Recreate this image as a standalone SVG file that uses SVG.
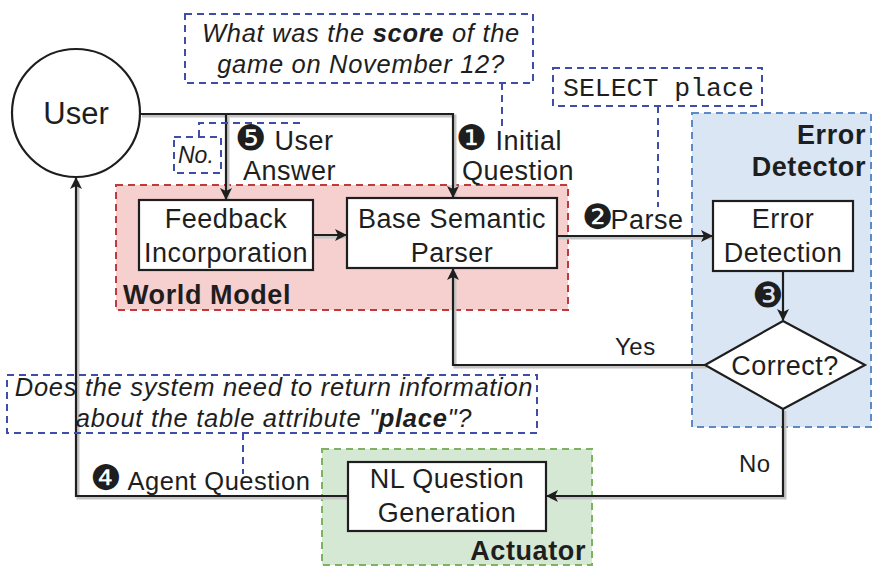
<svg xmlns="http://www.w3.org/2000/svg" width="886" height="575" viewBox="0 0 886 575">
<defs>
<style>
text{font-family:"Liberation Sans","DejaVu Sans",Arial,sans-serif;fill:#1e1e1e}
.t{font-size:27px;letter-spacing:0.5px}
.c{text-anchor:middle}
.r{text-anchor:end}
.b{font-weight:bold;font-size:27px;letter-spacing:0.6px}
.i{font-style:italic;font-size:25.5px;letter-spacing:0.7px}
.n{font-family:"DejaVu Sans",sans-serif;font-size:35px;letter-spacing:0}
.mono{font-family:"Liberation Mono","Courier New",monospace;font-size:26.5px}
.box{fill:#fff;stroke:#1e1e1e;stroke-width:2.2}
.call{fill:none;stroke:#3e4ea8;stroke-width:2;stroke-dasharray:7 5}
.line{fill:none;stroke:#1e1e1e;stroke-width:2.2}
.shadow{fill:none;stroke:#c4c4c4;stroke-width:3}
</style>
<marker id="ah" viewBox="0 0 12 12" refX="11" refY="6" markerWidth="12" markerHeight="12" markerUnits="userSpaceOnUse" orient="auto">
<path d="M0,0 L12,6 L0,12 L3,6 Z" fill="#1e1e1e"/>
</marker>
</defs>
<rect width="886" height="575" fill="#fff"/>

<g id="world-model">
<rect x="116" y="185" width="452" height="125" fill="#f6cfcf" stroke="#c0393b" stroke-width="2" stroke-dasharray="7 5"/>
<text x="123" y="304" class="b">World Model</text>
</g>
<g id="error-detector">
<rect x="692" y="113" width="179" height="314" fill="#dae6f4" stroke="#5b8ac6" stroke-width="2" stroke-dasharray="7 5"/>
<text x="866" y="144" class="b r">Error</text>
<text x="866" y="176" class="b r">Detector</text>
</g>
<g id="actuator">
<rect x="322" y="449" width="270" height="116" fill="#d5e8d4" stroke="#7db360" stroke-width="2" stroke-dasharray="7 5"/>
<text x="586" y="560" class="b r">Actuator</text>
</g>

<g id="connectors">
<g class="shadows" transform="translate(2,2)">
<path class="shadow" d="M140,114 H453 V196"/>
<path class="shadow" d="M226,114 V198"/>
<path class="shadow" d="M313,235 H345"/>
<path class="shadow" d="M557,236 H710"/>
<path class="shadow" d="M705,365 H453 V270"/>
<path class="shadow" d="M783,409 V496 H548"/>
<path class="shadow" d="M348,496 H76 V179"/>
</g>
<path class="line" d="M140,114 H453 V197" marker-end="url(#ah)"/>
<path class="line" d="M226,114 V199" marker-end="url(#ah)"/>
<path class="line" d="M313,235 H346" marker-end="url(#ah)"/>
<path class="line" d="M557,236 H712" marker-end="url(#ah)"/>
<path class="line" d="M783,271 V320" marker-end="url(#ah)"/>
<path class="line" d="M705,365 H453 V269" marker-end="url(#ah)"/>
<path class="line" d="M783,409 V496 H547" marker-end="url(#ah)"/>
<path class="line" d="M348,496 H76 V178" marker-end="url(#ah)"/>
<path class="call" d="M502,83 V128"/>
<path class="call" d="M658,106 V207"/>
<path class="call" d="M199,137 V123 H303"/>
<path class="call" d="M243,433 V474"/>
</g>

<g id="user">
<circle cx="76" cy="113" r="64" fill="#fff" stroke="#1e1e1e" stroke-width="2.2"/>
<text x="76" y="124" class="c" style="font-size:31px">User</text>
</g>

<g id="q-initial">
<rect class="call" x="185" y="14" width="348" height="69"/>
<text x="361" y="42" class="i c">What was the <tspan font-weight="bold">score</tspan> of the</text>
<text x="361" y="73" class="i c">game on November 12?</text>
</g>

<g id="q-select">
<rect class="call" x="553" y="68" width="209" height="38"/>
<text x="563" y="96" class="mono">SELECT place</text>
</g>

<g id="q-no">
<rect class="call" x="174" y="137" width="47" height="36"/>
<text x="178" y="163" class="i" style="font-size:23px;letter-spacing:0">No.</text>
</g>

<g id="q-agent">
<rect class="call" x="7" y="375" width="530" height="58" fill="#fff"/>
<text x="274" y="396" class="i c">Does the system need to return information</text>
<text x="274" y="427" class="i c">about the table attribute "<tspan font-weight="bold">place</tspan>"?</text>
</g>

<g id="feedback">
<rect class="box" x="139" y="200" width="174" height="70"/>
<text x="226" y="228" class="t c">Feedback</text>
<text x="226" y="262" class="t c">Incorporation</text>
</g>

<g id="parser">
<rect class="box" x="347" y="198" width="210" height="70"/>
<text x="452" y="228" class="t c">Base Semantic</text>
<text x="452" y="262" class="t c">Parser</text>
</g>

<g id="error-detection">
<rect class="box" x="713" y="201" width="140" height="70"/>
<text x="783" y="228" class="t c">Error</text>
<text x="783" y="262" class="t c">Detection</text>
</g>

<g id="correct">
<path d="M783,321 L865,365 L783,409 L705,365 Z" fill="#fff" stroke="#1e1e1e" stroke-width="2.2"/>
<text x="785" y="375" class="t c">Correct?</text>
</g>

<g id="nlq">
<rect class="box" x="348" y="462" width="198" height="69"/>
<text x="447" y="488" class="t c">NL Question</text>
<text x="447" y="522" class="t c">Generation</text>
</g>

<g id="labels">
<text x="456" y="150" class="t"><tspan class="n">❶</tspan> Initial</text>
<text x="462" y="180" class="t">Question</text>
<text x="235" y="150" class="t"><tspan class="n">❺</tspan> User</text>
<text x="243" y="180" class="t">Answer</text>
<text x="582" y="229" class="t"><tspan class="n">❷</tspan><tspan dx="-3">Parse</tspan></text>
<text x="752" y="307" class="n">❸</text>
<text x="615" y="355" class="t" style="font-size:24px">Yes</text>
<text x="739" y="472" class="t" style="font-size:24px">No</text>
<text x="90" y="490" class="t" style="font-size:25.5px"><tspan class="n">❹</tspan> Agent Question</text>
</g>
</svg>
